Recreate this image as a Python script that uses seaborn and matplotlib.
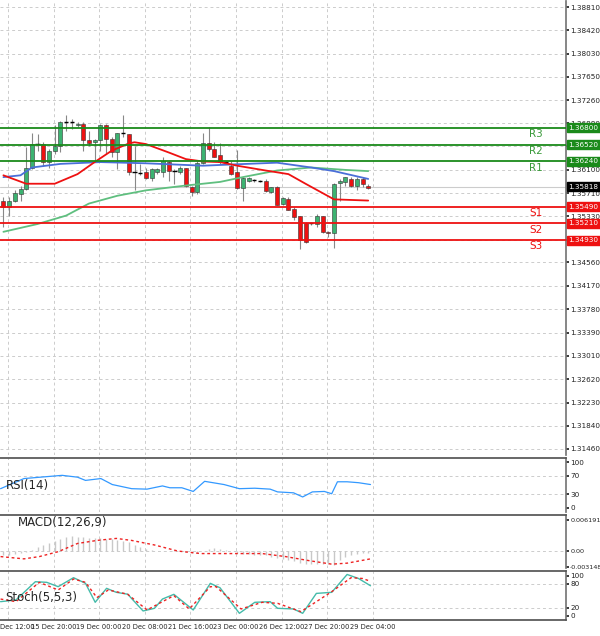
import numpy as np
import pandas as pd
import matplotlib
matplotlib.use("Agg")
import matplotlib.pyplot as plt
import seaborn as sns

opens = [1.3559,1.3548,1.3559,1.3570,1.3578,1.3614,1.3653,1.3653,1.3623,1.3642,1.3650,1.3689,1.3689,1.3684,1.3686,1.3660,1.3656,1.3660,1.3685,1.3661,1.3639,1.3671,1.3670,1.3606,1.3605,1.3606,1.3597,1.3606,1.3606,1.3623,1.3608,1.3606,1.3613,1.3582,1.3573,1.3621,1.3654,1.3645,1.3634,1.3623,1.3617,1.3606,1.3580,1.3592,1.3593,1.3592,1.3592,1.3573,1.3581,1.3554,1.3562,1.3545,1.3533,1.3521,1.3521,1.3520,1.3533,1.3507,1.3505,1.3588,1.3590,1.3595,1.3584,1.3595,1.3583]
closes = [1.3548,1.3559,1.3571,1.3578,1.3614,1.3653,1.3653,1.3623,1.3642,1.3650,1.3689,1.3689,1.3689,1.3686,1.3660,1.3654,1.3660,1.3685,1.3661,1.3639,1.3671,1.3671,1.3606,1.3606,1.3605,1.3597,1.3612,1.3612,1.3625,1.3608,1.3608,1.3613,1.3584,1.3573,1.3621,1.3654,1.3645,1.3632,1.3623,1.3623,1.3604,1.3580,1.3597,1.3597,1.3593,1.3592,1.3575,1.3581,1.3552,1.3563,1.3544,1.3531,1.3493,1.3490,1.3521,1.3533,1.3507,1.3505,1.3586,1.3592,1.3598,1.3584,1.3595,1.3587,1.3580]
highs = [1.3565,1.3565,1.3576,1.3584,1.3648,1.3672,1.3670,1.3656,1.3645,1.3684,1.3692,1.3702,1.3695,1.3689,1.3689,1.3675,1.3661,1.3687,1.3686,1.3664,1.3672,1.3702,1.3670,1.3650,1.3620,1.3614,1.3614,1.3614,1.3631,1.3625,1.3612,1.3617,1.3614,1.3584,1.3625,1.3671,1.3682,1.3656,1.3654,1.3625,1.3625,1.3643,1.3599,1.3598,1.3595,1.3594,1.3595,1.3582,1.3584,1.3565,1.3565,1.3548,1.3534,1.3523,1.3523,1.3537,1.3534,1.3509,1.3588,1.3595,1.3599,1.3598,1.3598,1.3599,1.3586]
lows = [1.3515,1.3534,1.3556,1.3559,1.3576,1.3612,1.3642,1.3617,1.3614,1.3637,1.3639,1.3675,1.3678,1.3681,1.3642,1.3650,1.3625,1.3642,1.3637,1.3631,1.3612,1.3664,1.3601,1.3576,1.3601,1.3595,1.3592,1.3604,1.3598,1.3592,1.3587,1.3603,1.3582,1.3567,1.3570,1.3619,1.3642,1.3631,1.3620,1.3620,1.3601,1.3578,1.3559,1.3590,1.3590,1.3590,1.3573,1.3571,1.3551,1.3551,1.3543,1.3526,1.3479,1.3488,1.3518,1.3515,1.3505,1.3498,1.3480,1.3559,1.3584,1.3582,1.3576,1.3581,1.3578]

ma_red_idx = [0,4,9,13,16,19,22,23,25,29,32,35,38,41,46,50,53,58,64]
ma_red = [1.3601,1.3587,1.3587,1.3603,1.3623,1.3642,1.3654,1.3656,1.3653,1.3639,1.3628,1.3624,1.3623,1.3617,1.3609,1.3603,1.3587,1.3561,1.3559]
ma_blue_idx = [0,3,5,10,17,25,35,40,48,54,58,64]
ma_blue = [1.3598,1.3601,1.3614,1.3620,1.3623,1.3621,1.3617,1.3619,1.3622,1.3614,1.3608,1.3595]
ma_green_idx = [0,6,11,15,20,25,32,38,42,48,54,60,64]
ma_green = [1.3507,1.3520,1.3534,1.3554,1.3567,1.3576,1.3584,1.3590,1.3598,1.3609,1.3614,1.3610,1.3608]

levels = [1.36800,1.36520,1.36240,1.35490,1.35210,1.34930]
level_names = ["R3","R2","R1","S1","S2","S3"]
current_price = 1.35818
price_ticks = [1.38810,1.38420,1.38030,1.37650,1.37260,1.36880,1.36490,1.36100,1.35710,1.35330,1.34940,1.34560,1.34170,1.33780,1.33390,1.33010,1.32620,1.32230,1.31840,1.31460]

date_labels = ["Dec 12:00","15 Dec 20:00","19 Dec 00:00","20 Dec 08:00","21 Dec 16:00","23 Dec 00:00","26 Dec 12:00","27 Dec 20:00","29 Dec 04:00"]
date_idx = [0.8,8.8,16.8,24.8,32.8,40.8,48.8,56.8,64.8]

rsi_idx = [-0.5,3.6,10.3,13,14.4,17.1,19.1,22.5,25.2,27.9,29.2,31.3,33.3,35.3,38.7,41.4,44.1,46.8,48.1,50.9,52.5,54.2,56.3,57.6,58.6,60.3,62.3,64.4]
rsi = [42,64,71,67,60,64,51,42,41,48,44,44,36,58,51,42,43,41,35,33,24,35,36,31,57,57,55,51]

macd_hist = [-0.8,-0.8,-0.6,-0.4,-0.2, 0.3,0.8,1.2,1.6,2.0,2.4,
             2.8,2.9,2.8,2.7,2.6,2.6,2.5,2.4,2.3,2.2,2.0,1.8,
             1.2,0.8,0.5,0.3,0.1,0.0,
             0.0,0.2,0.1,-0.1,-0.3,-0.4,0.0,0.5,0.6,0.5,0.3,0.1,-0.3,-0.6,-0.6,-0.7,-0.7,-0.8,
             -1.1,-1.3,-1.6,-1.8,-2.0,-2.3,-2.6,-2.6,-2.5,-2.5,-2.6,-2.7,
             -1.8,-1.2,-0.8,-0.6,-0.4,-0.3]
macd_sig_idx = [-0.5,3.6,6.3,9.6,13,16.4,19.8,22.5,26.5,30.6,34.6,40,45.4,49.5,53.6,57.6,60.3,64.4]
macd_sig = [-1.1,-1.55,-1.1,-0.13,1.5,2.1,2.5,2.1,1.2,0.0,-0.5,-0.5,-0.5,-1.1,-1.9,-2.6,-2.4,-1.55]

stk_idx = [-0.5,2.2,5.6,7.6,9.6,12.3,14.4,16.1,18.1,19.8,21.8,24.5,26.5,27.9,29.9,33.3,36.3,38,41.4,44.1,46.8,48.1,50.9,52.5,54.9,57.6,60.3,62.3,64.4]
stk = [35.5,39.7,85,83.5,72.7,95,81,34,68.6,58.7,54,12.4,19,42,53.7,14.9,81,70,6.6,33.9,35.5,19,17.4,6.6,56,58.7,103,93,75]
std_idx = [-0.5,2.2,6.3,9.6,12.3,14.4,16.4,18.4,21.8,25.2,27.9,29.9,32.6,36.3,37.3,41.7,45.4,48.1,52.2,54.9,57.6,61,63,64.4]
std = [42,35.5,83.5,64.5,91.7,83.5,45.5,64.5,54,14.9,35.5,50.4,17.4,72.7,72.7,17.4,33.9,31.4,10.7,35.5,60.3,95,93,86]

sns.set_theme(style="white")
W, H = 600, 636
fig = plt.figure(figsize=(6, 6.36), dpi=100)
XL = (-0.6, 98.7)
right = 566 / W
FS = 5.2

def mk(top, bottom):
    return fig.add_axes([0, (H - bottom) / H, right, (bottom - top) / H])

ax = mk(1, 455)
ax_rsi = mk(458, 512)
ax_macd = mk(515, 568)
ax_st = mk(571, 620)

for a in (ax, ax_rsi, ax_macd, ax_st):
    a.set_xlim(*XL)
    a.set_facecolor("white")
    for s in ("left", "bottom"):
        a.spines[s].set_visible(False)
    a.spines["right"].set_color("#777777")
    a.spines["top"].set_color("#555555")
    a.yaxis.tick_right()
    a.tick_params(axis="y", labelsize=FS, length=2, pad=1, colors="#222222", direction="out")
    a.tick_params(axis="x", length=0, labelbottom=False)
    a.set_xticks(date_idx)
    for xi in date_idx:
        a.axvline(xi, color="#cccccc", lw=0.7, ls=(0, (3, 3)), zorder=0)
ax.spines["top"].set_visible(False)

# main
ax.set_ylim(1.31357, 1.3891)
ax.set_yticks(price_ticks)
ax.set_yticklabels([f"{v:.5f}" for v in price_ticks])
for v in price_ticks:
    ax.axhline(v, color="#cccccc", lw=0.7, ls=(0, (3, 3)), zorder=0)

x = np.arange(len(opens))
for i in x:
    o, c, h, l = opens[i], closes[i], highs[i], lows[i]
    ax.vlines(i, l, h, color="#888888", lw=0.8, zorder=2)
    if abs(c - o) < 0.00008:
        ax.hlines(c, i - 0.4, i + 0.4, color="black", lw=1, zorder=3)
    else:
        col = "#3cb371" if c > o else "#ee1111"
        ax.bar(i, c - o, bottom=o, width=0.7, color=col, edgecolor="#333333", lw=0.4, zorder=3)

ax.axhline(current_price, color="#cccccc", lw=0.8, zorder=1)
sns.lineplot(x=ma_green_idx, y=ma_green, ax=ax, color="#5fbf7f", lw=1.3, zorder=4)
sns.lineplot(x=ma_blue_idx, y=ma_blue, ax=ax, color="#4a6fd8", lw=1.3, zorder=4)
sns.lineplot(x=ma_red_idx, y=ma_red, ax=ax, color="#ee1111", lw=1.3, zorder=4)

for v, n in zip(levels, level_names):
    col = "#1a8a1a" if n[0] == "R" else "#ee1111"
    ax.axhline(v, color=col, lw=1.3, zorder=4)
    ax.text(93.5, v - 0.0002, n, color=col if n[0] == "S" else "#3a9a3a", fontsize=7.5, ha="center", va="top")
    ax.text(1.004, v, f"{v:.5f}", transform=ax.get_yaxis_transform(), fontsize=FS, color="white",
            va="center", ha="left", bbox=dict(boxstyle="square,pad=0.2", fc=col, ec=col), zorder=6, clip_on=False)
ax.text(1.004, current_price, f"{current_price:.5f}", transform=ax.get_yaxis_transform(), fontsize=FS,
        color="white", va="center", ha="left", bbox=dict(boxstyle="square,pad=0.2", fc="black", ec="black"),
        zorder=6, clip_on=False)

# RSI
ax_rsi.set_ylim(-8.7, 108.7)
ax_rsi.set_yticks([0, 30, 70, 100])
for v in (30, 70):
    ax_rsi.axhline(v, color="#cccccc", lw=0.7, ls=(0, (3, 3)), zorder=0)
sns.lineplot(x=rsi_idx, y=rsi, ax=ax_rsi, color="#3399ff", lw=0.9)
ax_rsi.text(0.01, 0.5, "RSI(14)", transform=ax_rsi.transAxes, fontsize=8.5, va="center")

# MACD
ax_macd.set_ylim(-0.00336, 0.00714)
ax_macd.set_yticks([-0.003148, 0.0, 0.006191])
ax_macd.set_yticklabels(["-0.003148", "0.00", "0.006191"])
ax_macd.tick_params(axis="y", labelsize=4.6)
ax_macd.axhline(0, color="#cccccc", lw=0.7, ls=(0, (3, 3)), zorder=0)
ax_macd.vlines(x, 0, np.array(macd_hist) / 1000, color="#c8c8c8", lw=1.0)
sns.lineplot(x=macd_sig_idx, y=np.array(macd_sig) / 1000, ax=ax_macd, color="#ee2222", lw=1.0, ls=(0, (2, 2)))
ax_macd.text(0.032, 0.85, "MACD(12,26,9)", transform=ax_macd.transAxes, fontsize=8.5, va="center")

# Stoch
ax_st.set_ylim(-10, 111.6)
ax_st.set_yticks([0, 20, 80, 100])
for v in (20, 80):
    ax_st.axhline(v, color="#cccccc", lw=0.7, ls=(0, (3, 3)), zorder=0)
sns.lineplot(x=stk_idx, y=stk, ax=ax_st, color="#44bbaa", lw=1.0)
sns.lineplot(x=std_idx, y=std, ax=ax_st, color="#ee2222", lw=1.0, ls=(0, (2, 2)))
ax_st.text(0.01, 0.45, "Stoch(5,5,3)", transform=ax_st.transAxes, fontsize=8.5, va="center")
ax_st.spines["bottom"].set_visible(True)
ax_st.spines["bottom"].set_color("#555555")
ax_st.set_xticks(date_idx[1:])
ax_st.tick_params(axis="x", labelbottom=True, labelsize=4.9, pad=3)
ax_st.set_xticklabels(date_labels[1:])
ax_st.axvline(date_idx[0], color="#cccccc", lw=0.7, ls=(0, (3, 3)), zorder=0)
fig.text(0.0, (H - 627) / H, date_labels[0], fontsize=4.9, ha="left", va="center", color="#222222")
for a in (ax, ax_rsi, ax_macd, ax_st):
    a.set_xlabel(""); a.set_ylabel("")
    if a.get_legend():
        a.get_legend().remove()

fig.savefig("out.png", dpi=100, facecolor="white")
